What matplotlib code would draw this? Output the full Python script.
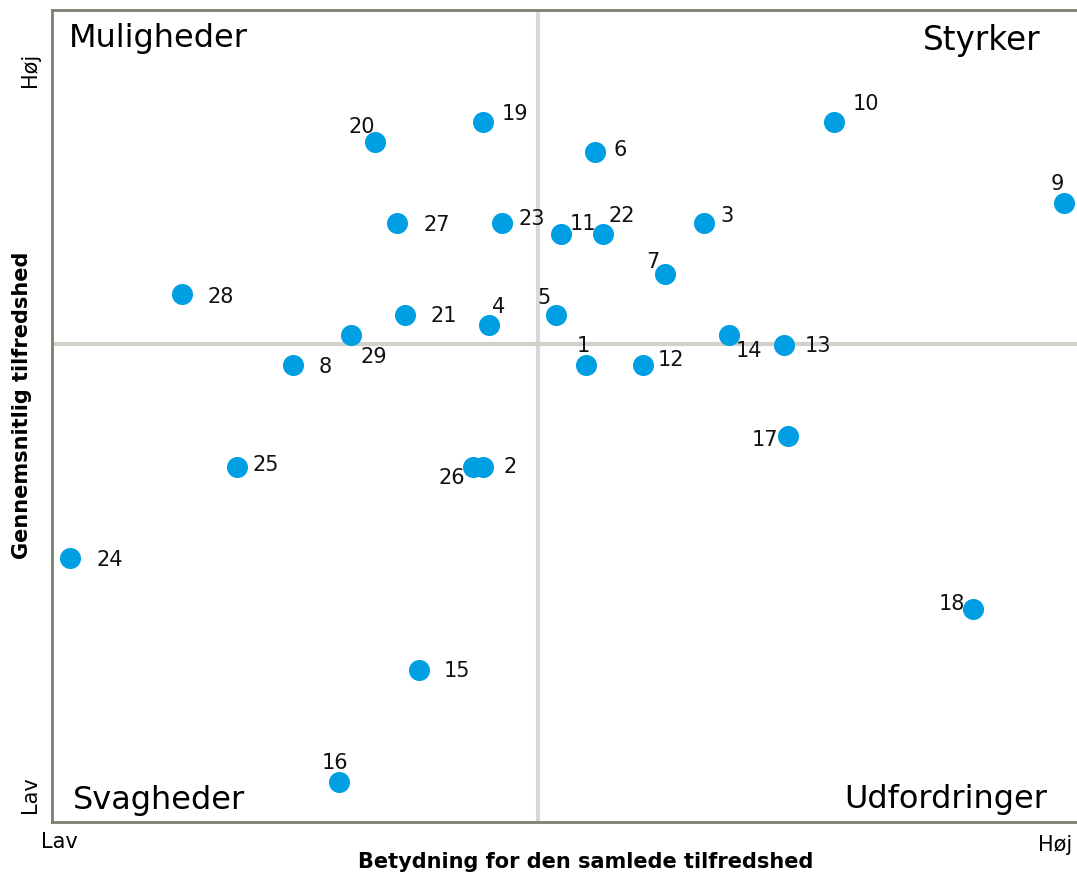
import matplotlib.pyplot as plt

# punkter: betydning (x) og gennemsnitlig tilfredshed (y), skala 0-100
ids = [str(i) for i in range(1, 30)]
betydning = [52.1, 42.0, 63.6, 42.6, 49.2, 53.0, 59.8, 23.5, 98.7, 76.3,
             49.7, 57.7, 71.4, 66.0, 35.8, 28.0, 71.8, 89.9, 42.0, 31.5,
             34.4, 53.8, 43.9, 1.8, 18.0, 41.1, 33.7, 12.7, 29.2]
tilfredshed = [56.3, 43.7, 73.8, 61.2, 62.4, 82.5, 67.5, 56.3, 76.2, 86.2,
               72.4, 56.3, 58.7, 60.0, 18.7, 4.9, 47.5, 26.2, 86.2, 83.7,
               62.4, 72.4, 73.8, 32.5, 43.7, 43.7, 73.8, 65.0, 60.0]
x_mid = 47.4
y_mid = 58.9

# label offsets i pixels (dx, dy)
offsets = [(-3, 19), (28, 0), (23, 7), (10, 18), (-12, 17), (25, 2), (-12, 12),
           (32, -2), (-6, 19), (32, 18), (22, 10), (28, 5), (34, -1), (20, -16),
           (38, -1), (-4, 19), (-23, -4), (-22, 5), (32, 8), (-13, 15), (39, -1),
           (18, 18), (30, 4), (39, -2), (29, 2), (-21, -11), (39, -2), (39, -3),
           (23, -22)]

fig = plt.figure(figsize=(10.77, 8.75), dpi=100)
ax = fig.add_axes([52/1077, 53/875, 1 - 52/1077, 812/875])
ax.set_xlim(0, 100)
ax.set_ylim(0, 100)

ax.axvline(x_mid, color='#d9d9d9', lw=3, zorder=1)
ax.axhline(y_mid, color='#d2d2ca', lw=3, zorder=1)

ax.scatter(betydning, tilfredshed, s=230, color='#009fe3', zorder=3, clip_on=False, linewidths=0)
for i, lab in enumerate(ids):
    ax.annotate(lab, (betydning[i], tilfredshed[i]), xytext=offsets[i], textcoords='offset pixels',
                ha='center', va='center', fontsize=15, color='#111111')

for side in ['left', 'top', 'bottom']:
    ax.spines[side].set_color('#7f7f70')
    ax.spines[side].set_linewidth(2)
ax.spines['right'].set_visible(False)
ax.set_xticks([])
ax.set_yticks([])

# kvadrant-tekster
ax.text(0.016, 0.965, 'Muligheder', transform=ax.transAxes, fontsize=23, ha='left', va='center')
ax.text(0.964, 0.963, 'Styrker', transform=ax.transAxes, fontsize=23.5, ha='right', va='center')
ax.text(0.020, 0.026, 'Svagheder', transform=ax.transAxes, fontsize=23, ha='left', va='center')
ax.text(0.971, 0.028, 'Udfordringer', transform=ax.transAxes, fontsize=23, ha='right', va='center')

# akse-tekster
fig.text(59/1077, 1 - 842/875, 'Lav', fontsize=15, ha='center', va='center')
fig.text(1055/1077, 1 - 845/875, 'Høj', fontsize=15, ha='center', va='center')
fig.text(30/1077, 1 - 70/875, 'Høj', fontsize=15, ha='center', va='center', rotation=90)
fig.text(30/1077, 1 - 795/875, 'Lav', fontsize=15, ha='center', va='center', rotation=90)
fig.text(586/1077, 1 - 862/875, 'Betydning for den samlede tilfredshed', fontsize=15,
         fontweight='bold', ha='center', va='center')
fig.text(22/1077, 1 - 405/875, 'Gennemsnitlig tilfredshed', fontsize=15,
         fontweight='bold', ha='center', va='center', rotation=90)

fig.savefig('out.png', dpi=100)
